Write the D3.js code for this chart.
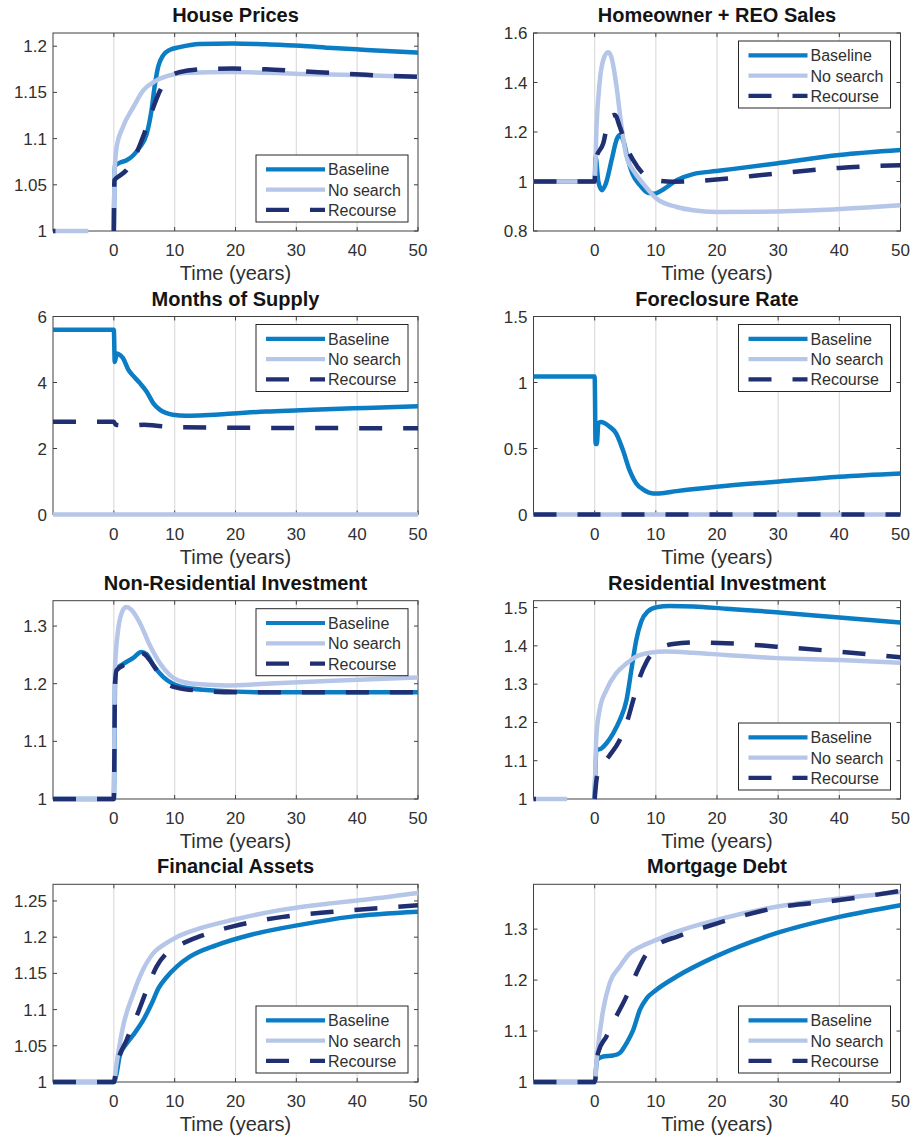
<!DOCTYPE html>
<html>
<head>
<meta charset="utf-8">
<script src="https://cdnjs.cloudflare.com/ajax/libs/d3/7.8.5/d3.min.js"></script>
<style>
  body { margin: 0; background: #fff; }
  svg text { font-family: "Liberation Sans", Arial, Helvetica, sans-serif; fill: #303030; }
</style>
</head>
<body>
<svg id="chart" width="912" height="1141"></svg>
<script>
// Series labels and x axis
var seriesNames = ["Baseline", "No search", "Recourse"];
var xTicks = [0, 10, 20, 30, 40, 50];

// House Prices
var housePricesBaseline = [[0,1],[0.15,1.07],[1,1.074],[2.1,1.0765],[3.2,1.082],[4.3,1.091],[5.4,1.105],[6.2,1.131],[6.7,1.156],[7.3,1.178],[8.1,1.19],[9.2,1.196],[10.8,1.199],[14.1,1.2025],[19.6,1.203],[25,1.202],[30.6,1.2005],[36,1.198],[41.5,1.196],[50,1.193]];
var housePricesNoSearch = [[-10,1],[-4.2,1],[-4.1,null],[0,1],[0.1,1.06],[0.44,1.09],[1.5,1.1126],[3.2,1.134],[4.8,1.152],[6.5,1.161],[8.7,1.1675],[11.4,1.171],[19.6,1.172],[30.6,1.17],[41.5,1.1686],[50,1.1668]];
var housePricesRecourse = [[-10,1],[-9.6,1],[-9.5,null],[0,1],[0.1,1.055],[1,1.06],[2.1,1.066],[3.7,1.084],[4.8,1.102],[6.5,1.134],[7.6,1.152],[9.2,1.167],[10.8,1.172],[14.1,1.175],[19.6,1.1758],[25,1.175],[30.6,1.173],[36,1.171],[41.5,1.169],[50,1.1668]];

// Homeowner + REO Sales
var salesBaseline = [[-10,1],[0,1],[0.15,1.1],[0.6,1.0],[1.2,0.965],[1.8,0.99],[2.8,1.09],[3.6,1.17],[4.1,1.188],[4.7,1.165],[5.45,1.086],[6.2,1.03],[7.4,0.985],[8.7,0.954],[9.8,0.951],[11.2,0.968],[13.4,1.005],[16.1,1.03],[19.9,1.042],[29.7,1.073],[40,1.107],[50,1.127]];
var salesNoSearch = [[-10,1],[0,1],[0.3,1.22],[0.8,1.397],[1.6,1.505],[2.2,1.522],[2.7,1.505],[3.5,1.397],[4.4,1.22],[5.2,1.1],[6.3,1.046],[7.9,0.992],[10.1,0.931],[13.4,0.897],[16.1,0.884],[19.9,0.877],[27,0.878],[37.9,0.886],[50,0.904]];
var salesRecourse = [[-10,1],[0,1],[0.2,1.09],[1.4,1.154],[2.45,1.262],[3.3,1.269],[4.1,1.222],[5.2,1.14],[6.3,1.086],[7.9,1.032],[10.1,1.005],[12.8,0.999],[16.1,1.001],[19.9,1.008],[29.7,1.032],[40,1.055],[50,1.066]];

// Months of Supply
var supplyBaseline = [[-10,5.6],[0,5.6],[0.15,4.62],[0.5,4.88],[0.7,4.87],[1.5,4.74],[2.35,4.4],[3.2,4.2],[4.3,3.98],[5.4,3.72],[6.5,3.37],[7.6,3.17],[8.7,3.07],[9.7,3.02],[11.9,2.99],[14.1,3.0],[19.6,3.06],[25,3.12],[30.6,3.16],[36,3.2],[41.5,3.23],[50,3.28]];
var supplyNoSearch = [[-10,0],[50,0]];
var supplyRecourse = [[-10,2.81],[0,2.81],[0.3,2.72],[3,2.69],[5,2.72],[7,2.69],[10,2.65],[20,2.63],[35,2.62],[50,2.61]];

// Foreclosure Rate
var foreclosureBaseline = [[-10,1.045],[0,1.045],[0.15,0.534],[0.35,0.534],[0.6,0.69],[1,0.7],[2.45,0.665],[3.5,0.615],[4.6,0.49],[5.7,0.336],[6.8,0.235],[7.9,0.19],[9.5,0.16],[10.6,0.16],[13.4,0.177],[19.9,0.21],[29.7,0.248],[40,0.286],[50,0.311]];
var foreclosureNoSearch = [[-10,0],[50,0]];
var foreclosureRecourse = [[-10,0],[50,0]];

// Non-Residential Investment
var nonResBaseline = [[-10,1],[0,1],[0.2,1.2],[0.44,1.226],[1.5,1.234],[3.2,1.245],[4.5,1.255],[5.4,1.251],[6.5,1.232],[8.1,1.212],[9.7,1.2],[11.9,1.193],[16.9,1.188],[25,1.185],[36,1.185],[50,1.185]];
var nonResNoSearch = [[-10,1],[0,1],[0.16,1.22],[0.7,1.293],[1.26,1.322],[2,1.333],[2.9,1.328],[4.3,1.305],[5.9,1.267],[7.6,1.235],[9.2,1.215],[11.4,1.203],[14.1,1.199],[18.5,1.197],[25,1.2],[36,1.205],[50,1.211]];
var nonResRecourse = [[-10,1],[0,1],[0.2,1.2],[0.44,1.223],[2.1,1.235],[3.7,1.247],[4.8,1.252],[5.9,1.241],[7,1.224],[8.7,1.2],[10.8,1.192],[14.1,1.188],[19.6,1.185],[50,1.185]];

// Residential Investment
var resBaseline = [[0,1],[0.27,1.127],[1.1,1.132],[1.9,1.145],[3,1.171],[4.1,1.206],[5.2,1.258],[6,1.337],[6.8,1.415],[7.6,1.463],[8.7,1.49],[10.1,1.501],[12.3,1.504],[16.1,1.503],[21.5,1.497],[29.7,1.488],[40,1.474],[50,1.461]];
var resNoSearch = [[-10,1],[-4.5,1],[-4.4,null],[0,1],[0.27,1.162],[0.8,1.232],[1.9,1.284],[3.5,1.328],[5.2,1.354],[6.8,1.372],[9,1.382],[11.7,1.385],[16.1,1.382],[21.5,1.376],[29.7,1.368],[40,1.363],[50,1.356]];
var resRecourse = [[-10,1],[-9.6,1],[-9.5,null],[0,1],[0.38,1.058],[1.4,1.092],[2.45,1.114],[4.1,1.154],[5.2,1.197],[6.3,1.258],[7.4,1.319],[8.5,1.359],[10.1,1.389],[12.8,1.405],[16.1,1.409],[21.5,1.407],[29.7,1.398],[40,1.385],[50,1.37]];

// Financial Assets
var assetsBaseline = [[-10,1],[0,1],[0.44,1.0115],[1,1.037],[2.1,1.053],[3.2,1.065],[4.8,1.085],[6.2,1.108],[7.3,1.129],[8.7,1.145],[10.3,1.159],[12.5,1.173],[16.9,1.189],[22.4,1.203],[30.6,1.217],[38.8,1.228],[50,1.235]];
var assetsNoSearch = [[-10,1],[0,1],[0.44,1.025],[1.5,1.076],[3.2,1.122],[4.8,1.155],[6.5,1.178],[8.1,1.189],[10.3,1.2],[14.1,1.212],[19.6,1.224],[27.8,1.238],[36,1.247],[41.5,1.252],[50,1.261]];
var assetsRecourse = [[-10,1],[0,1],[0.44,1.021],[2.1,1.058],[3.7,1.09],[5.4,1.127],[7,1.159],[8.7,1.178],[10.8,1.189],[14.1,1.201],[19.6,1.215],[27.8,1.228],[36,1.235],[50,1.244]];

// Mortgage Debt
var debtBaseline = [[-10,1],[0,1],[0.38,1.044],[1.4,1.05],[3,1.052],[4.1,1.057],[5.2,1.076],[6.3,1.102],[7.4,1.142],[8.5,1.164],[10.1,1.181],[13.4,1.207],[19.9,1.247],[29.7,1.292],[40,1.324],[50,1.347]];
var debtNoSearch = [[-10,1],[0,1],[0.38,1.05],[1.4,1.142],[2.45,1.194],[4.1,1.226],[5.7,1.252],[7.4,1.265],[10.1,1.279],[13.4,1.295],[19.9,1.318],[29.7,1.344],[40,1.36],[50,1.373]];
var debtRecourse = [[-10,1],[0,1],[0.55,1.057],[1.9,1.089],[3.5,1.128],[5.2,1.168],[6.8,1.213],[8.5,1.252],[10.6,1.272],[13.4,1.285],[19.9,1.311],[29.7,1.342],[40,1.357],[50,1.375]];

var panels = [
  {title: "House Prices", yMin: 1, yMax: 1.2143, yTicks: [1, 1.05, 1.1, 1.15, 1.2], legend: "lower",
   series: [housePricesBaseline, housePricesNoSearch, housePricesRecourse]},
  {title: "Homeowner + REO Sales", yMin: 0.8, yMax: 1.6, yTicks: [0.8, 1, 1.2, 1.4, 1.6], legend: "upper",
   series: [salesBaseline, salesNoSearch, salesRecourse]},
  {title: "Months of Supply", yMin: 0, yMax: 6, yTicks: [0, 2, 4, 6], legend: "upper",
   series: [supplyBaseline, supplyNoSearch, supplyRecourse]},
  {title: "Foreclosure Rate", yMin: 0, yMax: 1.5, yTicks: [0, 0.5, 1, 1.5], legend: "upper",
   series: [foreclosureBaseline, foreclosureNoSearch, foreclosureRecourse]},
  {title: "Non-Residential Investment", yMin: 1, yMax: 1.344, yTicks: [1, 1.1, 1.2, 1.3], legend: "upper",
   series: [nonResBaseline, nonResNoSearch, nonResRecourse]},
  {title: "Residential Investment", yMin: 1, yMax: 1.518, yTicks: [1, 1.1, 1.2, 1.3, 1.4, 1.5], legend: "lower",
   series: [resBaseline, resNoSearch, resRecourse]},
  {title: "Financial Assets", yMin: 1, yMax: 1.273, yTicks: [1, 1.05, 1.1, 1.15, 1.2, 1.25], legend: "lower",
   series: [assetsBaseline, assetsNoSearch, assetsRecourse]},
  {title: "Mortgage Debt", yMin: 1, yMax: 1.388, yTicks: [1, 1.1, 1.2, 1.3], legend: "lower",
   series: [debtBaseline, debtNoSearch, debtRecourse]}
];

// Line styles for Baseline, No search, Recourse
var styles = [
  {color: "#0a7dc4", dash: null},
  {color: "#b6c6e8", dash: null},
  {color: "#1f2f72", dash: "23,21"}
];

// Axes boxes (left/right columns, four rows)
var cols = [{left: 53, right: 418}, {left: 533.5, right: 900.5}];
var rows = [{top: 33, bottom: 231}, {top: 316.5, bottom: 514.5}, {top: 600.7, bottom: 799}, {top: 884.3, bottom: 1082}];

var svg = d3.select("#chart");

panels.forEach(function(p, i) {
  drawPanel(p, cols[i % 2], rows[Math.floor(i / 2)]);
});

/**
 * Draws one subplot: grid, box, ticks, labels, lines and legend
 */
function drawPanel(p, col, row) {
  var x = d3.scaleLinear().domain([-10, 50]).range([col.left, col.right]);
  var y = d3.scaleLinear().domain([p.yMin, p.yMax]).range([row.bottom, row.top]);
  var g = svg.append("g");
  var axisColor = "#404040";

  // vertical grid
  g.selectAll(".grid")
      .data(xTicks.slice(0, -1))
      .enter()
    .append("line")
      .attr("x1", function(d) { return x(d); })
      .attr("x2", function(d) { return x(d); })
      .attr("y1", row.top)
      .attr("y2", row.bottom)
      .attr("stroke", "#dcdcdc")
      .attr("stroke-width", 1.2);

  // box
  g.append("rect")
      .attr("x", col.left)
      .attr("y", row.top)
      .attr("width", col.right - col.left)
      .attr("height", row.bottom - row.top)
      .attr("fill", "none")
      .attr("stroke", axisColor)
      .attr("stroke-width", 1);

  // inner tick marks, both sides
  var tickLen = 4;
  xTicks.forEach(function(t) {
    g.append("line").attr("x1", x(t)).attr("x2", x(t)).attr("y1", row.bottom).attr("y2", row.bottom - tickLen)
      .attr("stroke", axisColor);
    g.append("line").attr("x1", x(t)).attr("x2", x(t)).attr("y1", row.top).attr("y2", row.top + tickLen)
      .attr("stroke", axisColor);
  });
  p.yTicks.forEach(function(t) {
    g.append("line").attr("x1", col.left).attr("x2", col.left + tickLen).attr("y1", y(t)).attr("y2", y(t))
      .attr("stroke", axisColor);
    g.append("line").attr("x1", col.right).attr("x2", col.right - tickLen).attr("y1", y(t)).attr("y2", y(t))
      .attr("stroke", axisColor);
  });

  // tick labels
  g.selectAll(".xlab")
      .data(xTicks)
      .enter()
    .append("text")
      .attr("x", function(d) { return x(d); })
      .attr("y", row.bottom + 25)
      .attr("text-anchor", "middle")
      .style("font-size", "17px")
      .text(function(d) { return d; });
  g.selectAll(".ylab")
      .data(p.yTicks)
      .enter()
    .append("text")
      .attr("x", col.left - 6)
      .attr("y", function(d) { return y(d) + 6; })
      .attr("text-anchor", "end")
      .style("font-size", "17px")
      .text(function(d) { return String(d); });

  // title and x label
  g.append("text")
      .attr("x", (col.left + col.right) / 2)
      .attr("y", row.top - 11)
      .attr("text-anchor", "middle")
      .style("font-size", "20px")
      .style("font-weight", "bold")
      .style("fill", "#141414")
      .text(p.title);
  g.append("text")
      .attr("x", (col.left + col.right) / 2)
      .attr("y", row.bottom + 49)
      .attr("text-anchor", "middle")
      .style("font-size", "20px")
      .text("Time (years)");

  // data lines
  var line = d3.line()
      .defined(function(d) { return d[1] !== null; })
      .x(function(d) { return x(d[0]); })
      .y(function(d) { return y(d[1]); })
      .curve(d3.curveMonotoneX);

  p.series.forEach(function(s, k) {
    g.append("path")
        .datum(s)
        .attr("d", line)
        .attr("fill", "none")
        .attr("stroke", styles[k].color)
        .attr("stroke-width", 4.5)
        .attr("stroke-linejoin", "round")
        .attr("stroke-dasharray", styles[k].dash);
  });

  drawLegend(g, p.legend, col, row);
}

/** Legend box in the upper or lower right corner */
function drawLegend(g, where, col, row) {
  var w = 152, h = 67;
  var lx = col.right - 10 - w;
  var ly = where === "upper" ? row.top + 8 : row.bottom - 9 - h;
  g.append("rect")
      .attr("x", lx)
      .attr("y", ly)
      .attr("width", w)
      .attr("height", h)
      .attr("fill", "#fff")
      .attr("stroke", "#262626")
      .attr("stroke-width", 1);
  seriesNames.forEach(function(name, k) {
    var yy = ly + 14.3 + k * 20.3;
    g.append("line")
        .attr("x1", lx + 10)
        .attr("x2", lx + 69)
        .attr("y1", yy)
        .attr("y2", yy)
        .attr("stroke", styles[k].color)
        .attr("stroke-width", 4.2)
        .attr("stroke-dasharray", styles[k].dash);
    g.append("text")
        .attr("x", lx + 72)
        .attr("y", yy + 6)
        .style("font-size", "16px")
        .text(name);
  });
}
</script>
</body>
</html>
